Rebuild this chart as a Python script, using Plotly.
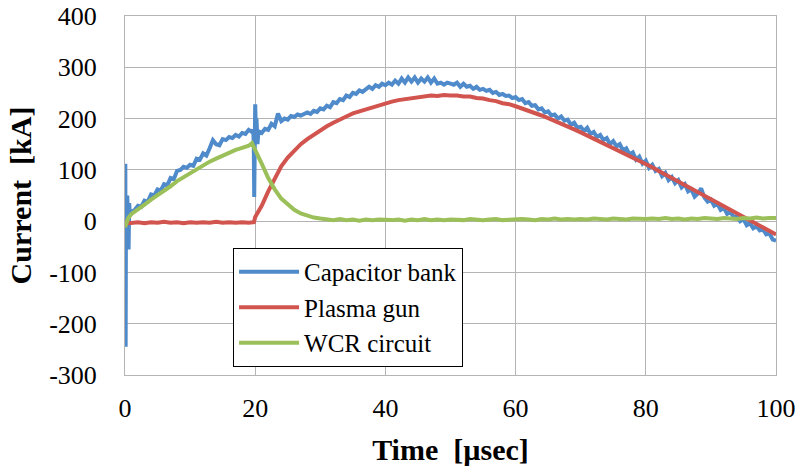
import numpy as np
import plotly.graph_objects as go

# ---------------- data ----------------
x_ticks = [0, 20, 40, 60, 80, 100]
y_ticks = [-300, -200, -100, 0, 100, 200, 300, 400]
y_tick_text = ["-300", "-200", "-100", "0", "100", "200", "300", "400"]

# Capacitor bank (blue)
blue_t_a = [0.0, 0.05, 0.1, 0.15, 0.25, 0.35, 0.45, 0.55, 0.65, 0.75, 0.85]
blue_v_a = [0, 112, -245, 40, -10, 50, 20, -55, 35, 10, 18]
blue_t_b = [float(v) for v in np.arange(1.0, 19.51, 0.5)]
blue_v_b = [18, 22, 30, 28, 40, 38, 52, 50, 62, 60,
            72, 70, 84, 82, 98, 100, 106, 104, 110, 108,
            122, 120, 132, 128, 142, 158, 150, 148, 160, 158,
            164, 162, 168, 165, 172, 170, 178, 174]
blue_t_c = [19.7, 19.78, 19.85, 19.92, 20.0, 20.1, 20.2, 20.35, 20.5]
blue_v_c = [178, 150, 47, 200, 228, 180, 200, 150, 175]
blue_t_d = [float(v) for v in np.arange(21.0, 100.01, 0.5)]
blue_v_d = [172, 180, 178, 190, 185, 210, 195, 200, 198, 205,
            203, 208, 206, 210, 212, 209, 215, 213, 220, 218,
            225, 222, 232, 230, 238, 236, 245, 242, 250, 248,
            255, 252, 258, 262, 258, 265, 262, 268, 265, 270,
            266, 274, 268, 278, 270, 280, 272, 280, 270, 278,
            272, 280, 270, 278, 268, 270, 266, 270, 268, 266,
            270, 262, 268, 262, 264, 258, 262, 256, 258, 254,
            256, 250, 252, 246, 248, 244, 245, 240, 242, 236,
            238, 230, 232, 225, 226, 218, 220, 212, 214, 206,
            208, 200, 204, 196, 198, 188, 192, 182, 184, 176,
            182, 170, 174, 164, 168, 158, 162, 150, 156, 146,
            150, 138, 142, 130, 134, 120, 126, 112, 118, 104,
            110, 98, 102, 88, 94, 80, 86, 74, 80, 66,
            72, 58, 62, 48, 54, 64, 46, 38, 42, 30,
            34, 22, 26, 14, 18, 8, 10, 0, 4, -8,
            -4, -14, -10, -18, -16, -26, -24, -36, -38]

# Plasma gun (red)
red_t_a = [0.0, 0.3, 0.6]
red_v_a = [-10, -2, -4]
red_t_b = list(range(1, 20))
red_v_b = [-3, -2, -4, -2, -3, -1, -3, -2, -4, -2,
           -3, -2, -3, -1, -3, -2, -3, -2, -3]
red_t_c = [19.8, 20.0]
red_v_c = [-2, 8]
red_t_d = list(range(21, 101))
red_v_d = [30, 58, 84, 107, 124, 138, 150, 160, 169, 177,
           185, 192, 199, 204, 210, 214, 219, 223, 226, 230,
           233, 236, 238, 240, 242, 243, 245, 244, 246, 245,
           245, 243, 243, 240, 239, 236, 234, 230, 228, 224,
           220, 216, 211, 206, 201, 196, 190, 185, 179, 173,
           167, 161, 155, 149, 143, 137, 130, 124, 118, 112,
           105, 98, 91, 85, 78, 71, 64, 57, 50, 43,
           36, 29, 22, 15, 8, 1, -6, -12, -19, -26]

# WCR circuit (green)
green_t_a = [0.0, 0.5]
green_v_a = [-12, 6]
green_t_b = list(range(1, 20))
green_v_b = [14, 22, 32, 42, 50, 59, 68, 78, 86, 94,
             102, 109, 116, 122, 128, 134, 139, 143, 147]
green_t_c = [19.5, 20.0]
green_v_c = [152, 140]
green_t_d = list(range(21, 101))
green_v_d = [112, 84, 62, 44, 32, 22, 15, 10, 7, 5,
             3, 2, 4, 2, 3, 1, 3, 2, 3, 2,
             2, 3, 1, 3, 2, 4, 2, 3, 2, 3,
             3, 2, 4, 3, 2, 3, 4, 2, 3, 3,
             4, 3, 2, 4, 3, 5, 3, 4, 3, 4,
             3, 5, 4, 3, 5, 4, 3, 5, 4, 4,
             5, 4, 6, 4, 5, 3, 5, 4, 6, 5,
             4, 6, 5, 4, 6, 5, 7, 5, 6, 6]

blue_t = blue_t_a + blue_t_b + blue_t_c + blue_t_d
blue_v = blue_v_a + blue_v_b + blue_v_c + blue_v_d
red_t = red_t_a + red_t_b + red_t_c + red_t_d
red_v = red_v_a + red_v_b + red_v_c + red_v_d
green_t = green_t_a + green_t_b + green_t_c + green_t_d
green_v = green_v_a + green_v_b + green_v_c + green_v_d

# ---------------- figure ----------------
SERIF = "Liberation Serif, DejaVu Serif, Noto Serif, serif"
GRID = "#b4b4b4"

fig = go.Figure()
fig.add_trace(go.Scatter(x=blue_t, y=blue_v, mode="lines", name="Capacitor bank",
                         line=dict(color="#4F8ACB", width=4)))
fig.add_trace(go.Scatter(x=red_t, y=red_v, mode="lines", name="Plasma gun",
                         line=dict(color="#D2544E", width=4)))
fig.add_trace(go.Scatter(x=green_t, y=green_v, mode="lines", name="WCR circuit",
                         line=dict(color="#9BC05A", width=4)))

fig.update_layout(
    width=800, height=474,
    margin=dict(l=125, r=24, t=16, b=99),
    paper_bgcolor="white", plot_bgcolor="white",
    font=dict(family=SERIF, color="#000000"),
    showlegend=True,
    legend=dict(
        x=0.166, y=0.354, xanchor="left", yanchor="top",
        bgcolor="white", bordercolor="black", borderwidth=1,
        font=dict(family=SERIF, size=25),
        itemwidth=60, tracegroupgap=0,
    ),
)
fig.update_xaxes(
    range=[0, 100], tickvals=x_ticks, ticktext=[str(v) for v in x_ticks],
    automargin=False,
    showgrid=True, gridcolor=GRID, gridwidth=1,
    showline=True, linecolor=GRID, linewidth=1, mirror=True,
    zeroline=False, ticks="", ticklabelstandoff=10,
    tickfont=dict(family=SERIF, size=26),
    title=dict(text="<b>Time&nbsp; [&#181;sec]</b>", font=dict(family=SERIF, size=30),
               standoff=16),
)
fig.update_yaxes(
    range=[-300, 400], tickvals=y_ticks, ticktext=y_tick_text,
    automargin=False,
    showgrid=True, gridcolor=GRID, gridwidth=1,
    showline=True, linecolor=GRID, linewidth=1, mirror=True,
    zeroline=False, ticks="", ticklabelstandoff=22,
    tickfont=dict(family=SERIF, size=26),
    title=dict(text="<b>Current&nbsp; [kA]</b>", font=dict(family=SERIF, size=30),
               standoff=8),
)

fig.write_html("out.html")
